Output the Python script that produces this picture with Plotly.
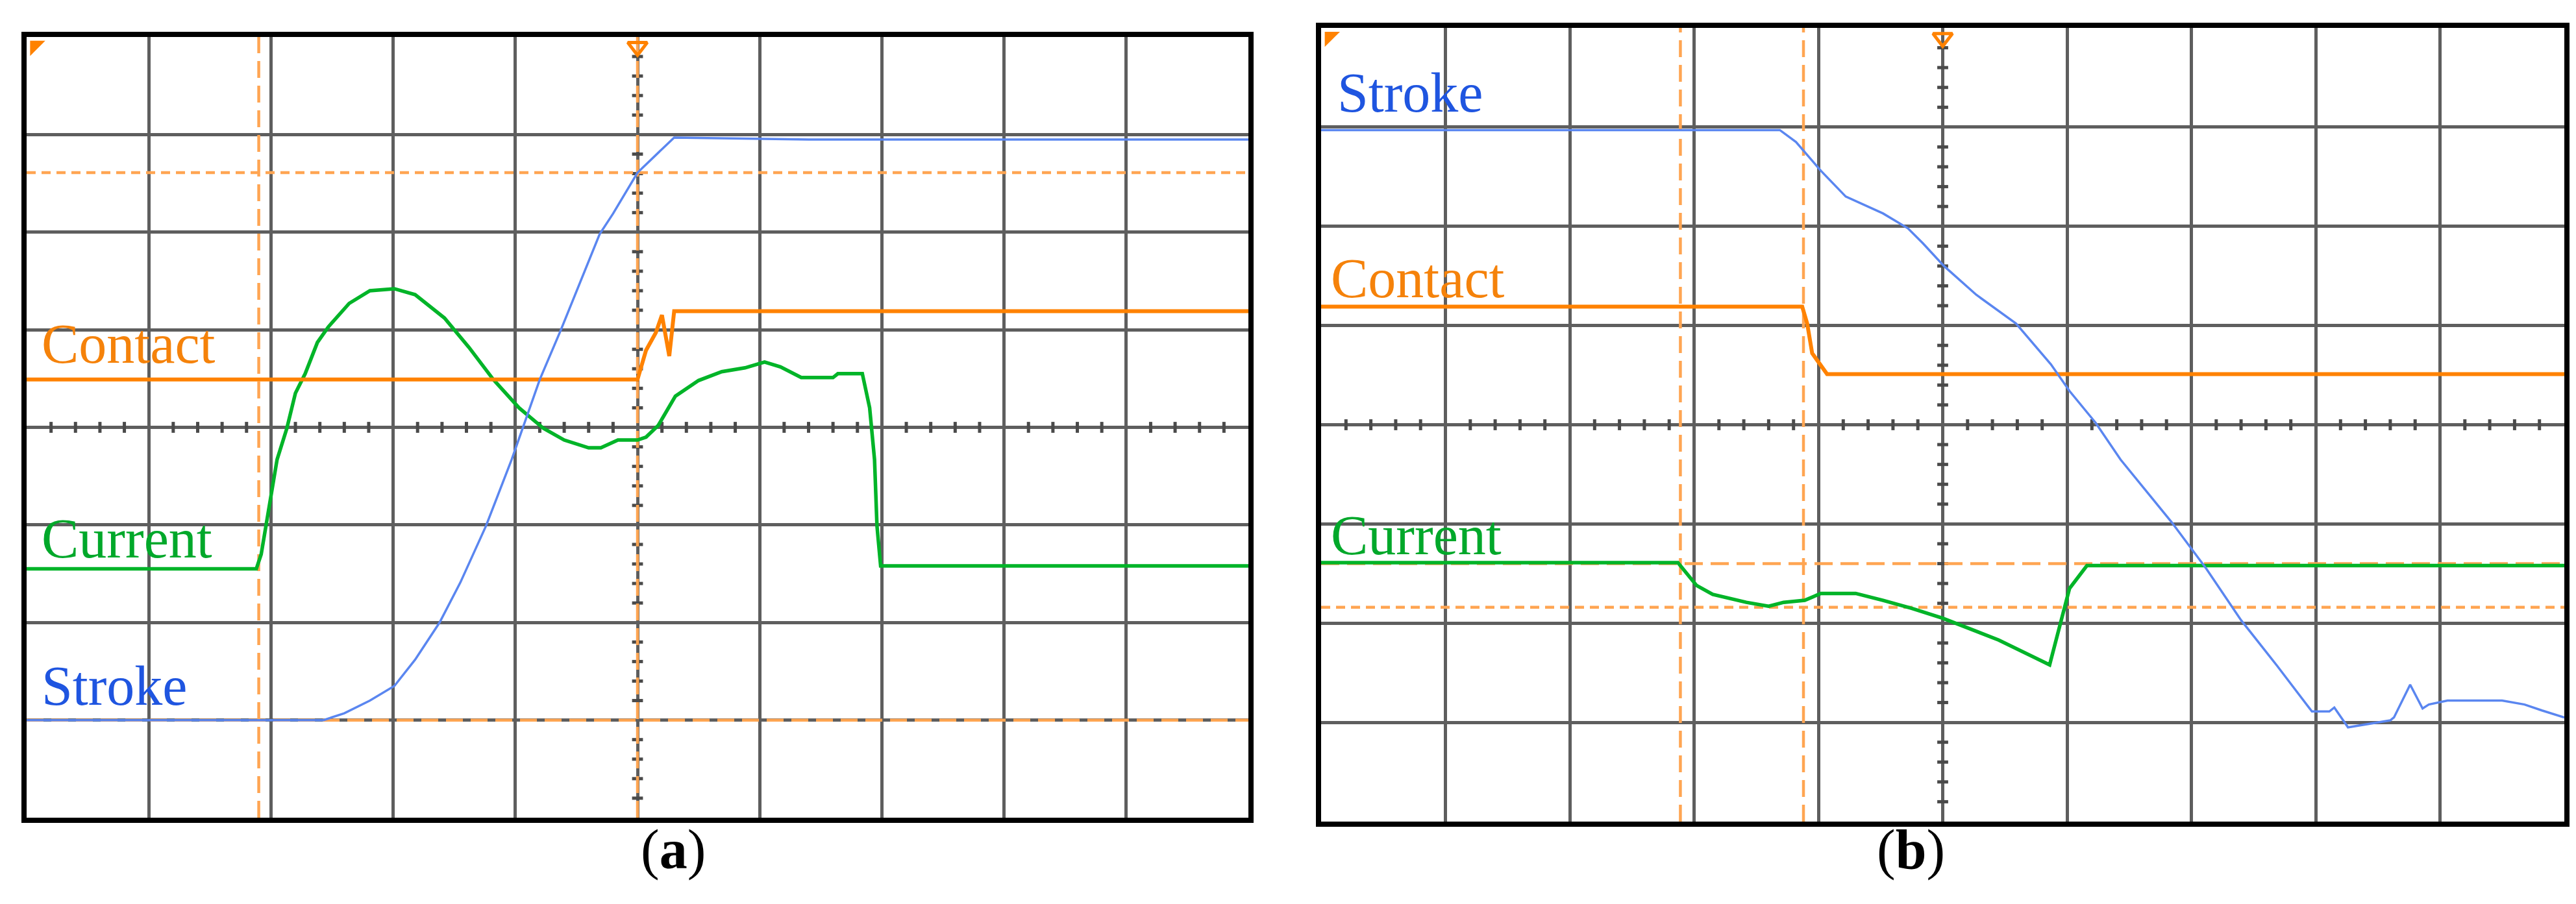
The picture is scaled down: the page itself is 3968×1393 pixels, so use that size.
import plotly.graph_objects as go

# panel (a): closing, divisions on a 10 x 8 graticule
stroke_a_x = [0, 2.43, 2.60, 2.81, 3.01, 3.18, 3.38, 3.55, 3.76, 3.97, 4.20, 4.37, 4.69, 4.80, 5.00, 5.17,
              5.30, 6.40, 10]
stroke_a_y = [1.0, 1.0, 1.07, 1.20, 1.35, 1.62, 2.0, 2.41, 2.99, 3.67, 4.49, 4.99, 5.98, 6.19, 6.61, 6.81,
              6.97, 6.95, 6.95]
contact_a_x = [0, 5.0, 5.07, 5.15, 5.20, 5.26, 5.30, 10]
contact_a_y = [4.49, 4.49, 4.79, 4.97, 5.15, 4.73, 5.19, 5.19]
current_a_x = [0, 1.88, 1.92, 2.05, 2.13, 2.20, 2.28, 2.38, 2.47, 2.64, 2.81, 3.01, 3.18, 3.42, 3.62, 3.82,
               4.03, 4.23, 4.40, 4.60, 4.70, 4.84, 5.00, 5.07, 5.17, 5.31, 5.50, 5.69, 5.88, 6.04, 6.17,
               6.34, 6.60, 6.64, 6.84, 6.90, 6.94, 6.96, 6.99, 10]
current_a_y = [2.55, 2.55, 2.70, 3.67, 3.99, 4.35, 4.55, 4.87, 5.03, 5.27, 5.40, 5.42, 5.36, 5.12, 4.82, 4.49,
               4.20, 3.99, 3.87, 3.79, 3.79, 3.87, 3.87, 3.90, 4.02, 4.32, 4.48, 4.57, 4.61, 4.67, 4.62,
               4.51, 4.51, 4.55, 4.55, 4.20, 3.67, 2.99, 2.58, 2.58]
cursor_v_a = [1.90, 5.0]
cursor_h_a = [6.61, 1.0]

# panel (b): opening
stroke_b_x = [0, 3.69, 3.82, 4.02, 4.22, 4.52, 4.72, 4.84, 5.01, 5.27, 5.59, 5.87, 6.02, 6.23, 6.43, 6.84,
              7.12, 7.40, 7.69, 7.97, 8.11, 8.15, 8.26, 8.36, 8.60, 8.63, 8.76, 8.86, 8.91, 9.06, 9.50,
              9.68, 9.82, 10.0]
stroke_b_y = [6.97, 6.97, 6.85, 6.56, 6.30, 6.13, 5.98, 5.83, 5.60, 5.31, 5.02, 4.61, 4.34, 4.02, 3.65, 3.02,
              2.55, 2.03, 1.57, 1.11, 1.11, 1.15, 0.95, 0.97, 1.02, 1.05, 1.38, 1.14, 1.18, 1.22, 1.22,
              1.18, 1.12, 1.05]
contact_b_x = [0, 3.87, 3.91, 3.95, 4.07, 10]
contact_b_y = [5.19, 5.19, 5.02, 4.72, 4.51, 4.51]
current_b_x = [0, 2.87, 3.02, 3.15, 3.42, 3.60, 3.72, 3.89, 4.02, 4.30, 4.52, 4.75, 5.00, 5.45, 5.86, 5.95,
               6.02, 6.16, 10]
current_b_y = [2.61, 2.61, 2.38, 2.29, 2.21, 2.17, 2.21, 2.23, 2.30, 2.30, 2.23, 2.15, 2.05, 1.83, 1.58, 2.03,
               2.35, 2.58, 2.58]
cursor_v_b = [2.89, 3.88]
cursor_h_b = [2.60, 2.16]

# label positions (division units)
labels_a = [("Contact", 0.11, 4.52, "#f5820a"), ("Current", 0.11, 2.53, "#00a82a"), ("Stroke", 0.11, 1.02, "#1f55e0")]
labels_b = [("Stroke", 0.12, 7.02, "#1f55e0"), ("Contact", 0.07, 5.15, "#f5820a"), ("Current", 0.07, 2.56, "#00a82a")]

ORANGE = "#ff8200"
GREEN = "#00b428"
BLUE = "#5a86f0"
CURSOR = "#ffa552"
GRID = "#5e5e5e"
TICK = "#4a4a4a"

fig = go.Figure()


def add_panel(xa, ya, sx, sy, cx, cy, ix, iy, cv, ch, hdash):
    # graticule minor ticks on the centre axes
    minor = [k / 5 for k in range(1, 50) if k % 5]
    fig.add_trace(go.Scatter(x=minor, y=[4] * len(minor), mode="markers", xaxis=xa, yaxis=ya,
                             marker=dict(symbol="line-ns-open", size=12, color=TICK,
                                         line=dict(width=5, color=TICK)),
                             hoverinfo="skip"))
    minor_y = [k / 5 for k in range(1, 40) if k % 5]
    fig.add_trace(go.Scatter(x=[5] * len(minor_y), y=minor_y, mode="markers", xaxis=xa, yaxis=ya,
                             marker=dict(symbol="line-ew-open", size=12, color=TICK,
                                         line=dict(width=5, color=TICK)),
                             hoverinfo="skip"))
    # cursors
    for v in cv:
        fig.add_trace(go.Scatter(x=[v, v], y=[0, 8], mode="lines", xaxis=xa, yaxis=ya, hoverinfo="skip",
                                 line=dict(color=CURSOR, width=4.5, dash="26px,12px")))
    for h, d in zip(ch, hdash):
        fig.add_trace(go.Scatter(x=[0, 10], y=[h, h], mode="lines", xaxis=xa, yaxis=ya, hoverinfo="skip",
                                 line=dict(color=CURSOR, width=4.5, dash=d)))
    fig.add_trace(go.Scatter(x=ix, y=iy, mode="lines", xaxis=xa, yaxis=ya, name="Current",
                             line=dict(color=GREEN, width=5.5)))
    fig.add_trace(go.Scatter(x=cx, y=cy, mode="lines", xaxis=xa, yaxis=ya, name="Contact",
                             line=dict(color=ORANGE, width=6)))
    fig.add_trace(go.Scatter(x=sx, y=sy, mode="lines", xaxis=xa, yaxis=ya, name="Stroke",
                             line=dict(color=BLUE, width=3.5)))
    # trigger markers
    fig.add_trace(go.Scatter(x=[0.07], y=[7.91], mode="markers", xaxis=xa, yaxis=ya, cliponaxis=False,
                             marker=dict(symbol="triangle-nw", size=26, color=ORANGE), hoverinfo="skip"))
    fig.add_trace(go.Scatter(x=[5], y=[7.9], mode="markers", xaxis=xa, yaxis=ya, cliponaxis=False,
                             marker=dict(symbol="triangle-down-open", size=26, color=ORANGE,
                                         line=dict(width=5, color=ORANGE)), hoverinfo="skip"))


add_panel("x", "y", stroke_a_x, stroke_a_y, contact_a_x, contact_a_y, current_a_x, current_a_y,
          cursor_v_a, cursor_h_a, ["14px,9px", "26px,12px"])
add_panel("x2", "y2", stroke_b_x, stroke_b_y, contact_b_x, contact_b_y, current_b_x, current_b_y,
          cursor_v_b, cursor_h_b, ["28px,12px", "14px,9px"])

annotations = []
for xr, yr, labs in [("x", "y", labels_a), ("x2", "y2", labels_b)]:
    for txt, lx, ly, col in labs:
        annotations.append(dict(text=txt, x=lx, y=ly, xref=xr, yref=yr, xanchor="left", yanchor="bottom",
                                showarrow=False, font=dict(family="Liberation Serif", size=86, color=col)))
annotations.append(dict(text="(<b>a</b>)", x=0.2462, y=0.03, xref="paper", yref="paper", showarrow=False,
                        font=dict(family="Liberation Serif", size=86, color="black")))
annotations.append(dict(text="(<b>b</b>)", x=0.7535, y=0.03, xref="paper", yref="paper", showarrow=False,
                        font=dict(family="Liberation Serif", size=86, color="black")))

axis_common = dict(showgrid=True, gridcolor=GRID, gridwidth=5, dtick=1, tick0=0, showticklabels=False,
                   ticks="", zeroline=False, showline=True, linecolor="black", linewidth=8, mirror=True,
                   fixedrange=True)

fig.update_layout(
    width=3968, height=1393, margin=dict(l=0, r=0, t=0, b=0),
    paper_bgcolor="white", plot_bgcolor="white", showlegend=False,
    xaxis=dict(domain=[33 / 3968, 1915 / 3968], range=[0, 10], anchor="y", **axis_common),
    yaxis=dict(domain=[1 - 1252 / 1393, 1 - 49 / 1393], range=[0, 8], anchor="x", **axis_common),
    xaxis2=dict(domain=[2027 / 3968, 3942 / 3968], range=[0, 10], anchor="y2", **axis_common),
    yaxis2=dict(domain=[1 - 1258 / 1393, 1 - 35 / 1393], range=[0, 8], anchor="x2", **axis_common),
    annotations=annotations,
)

fig.write_html("out.html")
